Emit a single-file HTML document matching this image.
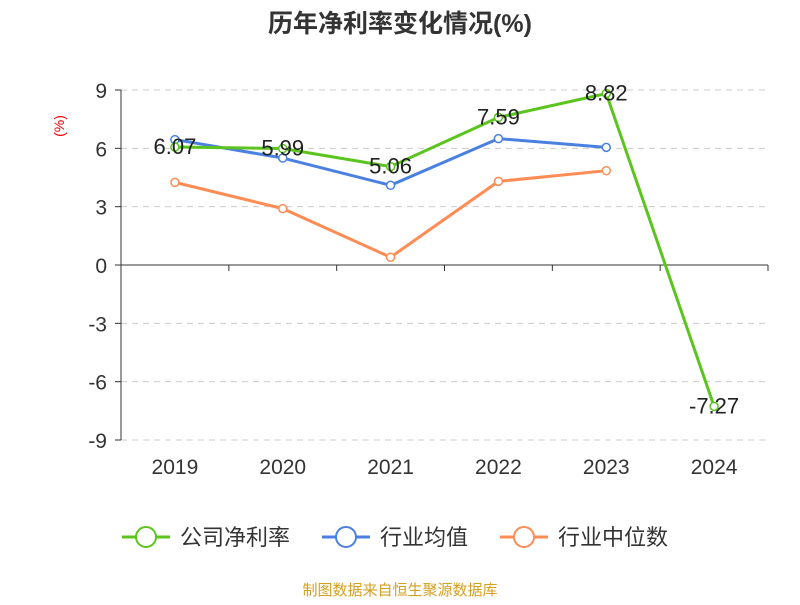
<!DOCTYPE html>
<html><head><meta charset="utf-8"><style>
body{margin:0;background:#fff;font-family:"Liberation Sans","Noto Sans CJK SC",sans-serif}
</style></head><body>
<svg width="800" height="600" xmlns="http://www.w3.org/2000/svg" font-family="Liberation Sans, Noto Sans CJK SC, sans-serif">
<text x="400" y="32" text-anchor="middle" font-size="25" font-weight="bold" fill="#333">历年净利率变化情况(%)</text>
<text x="64" y="126" text-anchor="middle" font-size="14" fill="#e00" transform="rotate(-90 64 126)">(%)</text>
<g id="grid"></g><g id="axes"></g><g id="series"></g>
<g font-size="22" fill="#333">
<g><line x1="122" y1="537" x2="170" y2="537" stroke="#5cc41f" stroke-width="3"/><circle cx="146" cy="537" r="10" fill="#fff" stroke="#5cc41f" stroke-width="2"/><text x="180" y="545">公司净利率</text></g>
<g><line x1="322" y1="537" x2="370" y2="537" stroke="#4a80e0" stroke-width="3"/><circle cx="346" cy="537" r="10" fill="#fff" stroke="#4a80e0" stroke-width="2"/><text x="380" y="545">行业均值</text></g>
<g><line x1="500" y1="537" x2="548" y2="537" stroke="#ff8c55" stroke-width="3"/><circle cx="524" cy="537" r="10" fill="#fff" stroke="#ff8c55" stroke-width="2"/><text x="558" y="545">行业中位数</text></g>
</g>
<text x="400" y="595" text-anchor="middle" font-size="15" fill="#d4a020">制图数据来自恒生聚源数据库</text>
</svg>
<script>
const categories=["2019","2020","2021","2022","2023","2024"];
const netMargin=[6.07,5.99,5.06,7.59,8.82,-7.27];
const industryAvg=[6.45,5.5,4.1,6.5,6.05];
const industryMedian=[4.25,2.9,0.4,4.3,4.85];
const yTicks=[9,6,3,0,-3,-6,-9];
const NS="http://www.w3.org/2000/svg";
const x0=121,x1=768,bw=(x1-x0)/categories.length;
const xs=i=>x0+bw*(i+0.5);
const ys=v=>265-v*(350/18);
function mk(t,a,p){const e=document.createElementNS(NS,t);for(const k in a)e.setAttribute(k,a[k]);p.appendChild(e);return e;}
const grid=document.getElementById('grid'),axes=document.getElementById('axes'),ser=document.getElementById('series');
yTicks.forEach(v=>{
 if(v!==0){const g=mk('line',{x1:x0,x2:x1,y1:ys(v),y2:ys(v),stroke:'#ccc','stroke-dasharray':'6,5'},grid);
 
 }
 const tk=mk('line',{x1:x0-6,x2:x0,y1:ys(v),y2:ys(v),stroke:'#333'},axes);
 
 
 const t=mk('text',{x:x0-14,y:ys(v)+8,'text-anchor':'end','font-size':21,fill:'#333'},axes);
 t.textContent=v;
 
 
});
const ya=mk('line',{x1:x0,x2:x0,y1:ys(9),y2:ys(-9),stroke:'#333'},axes);


const xa=mk('line',{x1:x0,x2:x1,y1:ys(0),y2:ys(0),stroke:'#333'},axes);


for(let i=0;i<=categories.length;i++){const tk=mk('line',{x1:x0+bw*i,x2:x0+bw*i,y1:ys(0),y2:ys(0)+6,stroke:'#333'},axes);
 
 }
categories.forEach((c,i)=>{const t=mk('text',{x:xs(i),y:474,'text-anchor':'middle','font-size':21,fill:'#333'},axes);
 t.textContent=c;
 
 });
function series(vals,color,name,labels){
 const g=mk('g',{},ser);
 
 
 const l=mk('polyline',{points:vals.map((v,i)=>xs(i)+','+ys(v)).join(' '),fill:'none',stroke:color,'stroke-width':3},g);
 
 
 vals.forEach((v,i)=>{const p=mk('circle',{cx:xs(i),cy:ys(v),r:4,fill:'#fff',stroke:color,'stroke-width':1.5},g);
  
  
  if(labels){const t=mk('text',{x:xs(i),y:ys(v)+7,'text-anchor':'middle','font-size':22,fill:'#222'},g);
   t.textContent=v.toFixed(2);
   
   }});
}
series(industryMedian,'#ff8c55','industry-median-series',false);
series(industryAvg,'#4a80e0','industry-avg-series',false);
series(netMargin,'#5cc41f','net-margin-series',true);
</script>
</body></html>
